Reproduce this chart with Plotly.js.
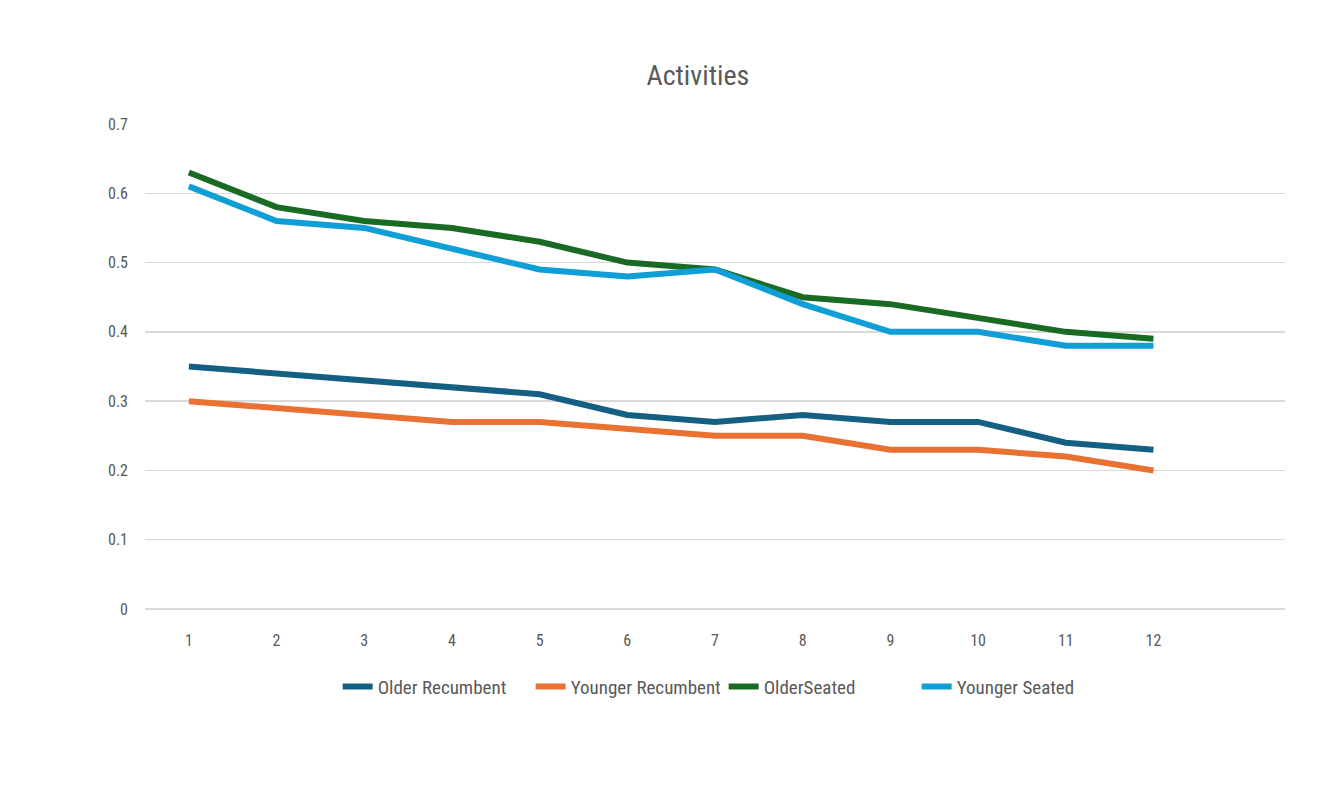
<!DOCTYPE html>
<html>
<head>
<meta charset="utf-8">
<script src="https://cdn.plot.ly/plotly-3.0.1.min.js"></script>
<style>html,body{margin:0;padding:0;background:#fff;}#chart{width:1330px;height:803px;}</style>
</head>
<body>
<div id="chart"></div>
<script>
const categories = [1,2,3,4,5,6,7,8,9,10,11,12];
const olderRecumbent = [0.35,0.34,0.33,0.32,0.31,0.28,0.27,0.28,0.27,0.27,0.24,0.23];
const youngerRecumbent = [0.30,0.29,0.28,0.27,0.27,0.26,0.25,0.25,0.23,0.23,0.22,0.20];
const olderSeated = [0.63,0.58,0.56,0.55,0.53,0.50,0.49,0.45,0.44,0.42,0.40,0.39];
const youngerSeated = [0.61,0.56,0.55,0.52,0.49,0.48,0.49,0.44,0.40,0.40,0.38,0.38];
const seriesNames = ["Older Recumbent","Younger Recumbent","OlderSeated","Younger Seated"];
const yTicks = [0,0.1,0.2,0.3,0.4,0.5,0.6,0.7];
const yTickLabels = ["0","0.1","0.2","0.3","0.4","0.5","0.6","0.7"];

const colors = ["#156082","#E97132","#196B24","#0F9ED5"];
const data = [olderRecumbent, youngerRecumbent, olderSeated, youngerSeated].map((v,i)=>({
  type:'scatter', mode:'lines', x:categories, y:v, name:seriesNames[i],
  line:{color:colors[i], width:6}
}));
const font = "'Liberation Sans Narrow', 'Roboto Condensed', 'Arial Narrow', sans-serif";
const layout = {
  width:1330, height:803,
  margin:{l:145, r:45, t:124, b:194},
  paper_bgcolor:'#fff', plot_bgcolor:'#fff',
  font:{family:font, color:'#595959', size:15},
  title:{text:'Activities', x:0.485, xref:'paper', xanchor:'center', y:1-75/803, yref:'container', yanchor:'middle',
         font:{family:font, size:28, color:'#595959'}},
  xaxis:{range:[0.5,13.5], tickvals:categories, ticktext:categories.map(String), showgrid:false, zeroline:false,
         showline:false, ticks:'', ticklabelstandoff:20, tickfont:{size:16, color:'#595959'}, fixedrange:true},
  yaxis:{range:[0,0.7], tickvals:yTicks, ticktext:yTickLabels, showgrid:true, gridcolor:'#D9D9D9', gridwidth:1.3,
         zeroline:true, zerolinecolor:'#D9D9D9', zerolinewidth:1.3, showline:false, ticks:'', ticklabelstandoff:16,
         tickfont:{size:16, color:'#595959'}},
  showlegend:true,
  legend:{orientation:'h', x:0.169, xanchor:'left', y:-0.16, yanchor:'middle', font:{size:19, color:'#595959'},
          itemwidth:30, tracegroupgap:0, entrywidth:148, entrywidthmode:'pixels'},
  hovermode:false
};
Plotly.newPlot('chart', data, layout, {displayModeBar:false, staticPlot:true});
</script>
</body>
</html>
